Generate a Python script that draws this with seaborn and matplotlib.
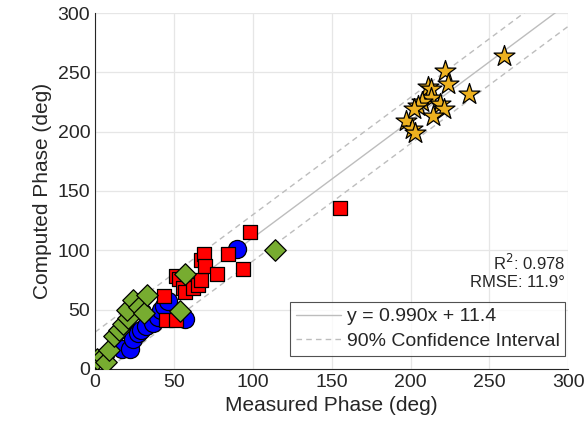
import numpy as np
import pandas as pd
import matplotlib
matplotlib.use("Agg")
import matplotlib.pyplot as plt
import seaborn as sns

# measured / computed phase (deg) per group
blue_x = [17, 22, 24, 27, 29, 32, 37, 40, 42, 44, 46, 55, 57, 90]
blue_y = [17, 17, 25, 30, 33, 36, 39, 44, 50, 53, 57, 44, 42, 101]
red_x = [44, 45, 51, 51, 53, 56, 57, 62, 65, 67, 67, 69, 70, 77, 84, 94, 98, 155]
red_y = [61, 41, 41, 78, 76, 68, 65, 68, 71, 75, 92, 97, 87, 80, 97, 84, 115, 136]
green_x = [1, 5, 7, 9, 12, 15, 18, 21, 20, 24, 28, 31, 33, 54, 57, 114]
green_y = [8, 10, 6, 16, 28, 33, 38, 43, 50, 58, 52, 47, 62, 49, 80, 100]
star_x = [259, 222, 224, 211, 213, 237, 213, 207, 205, 202, 219, 221, 214, 197, 201, 203]
star_y = [264, 251, 240, 238, 236, 232, 228, 225, 222, 219, 223, 219, 213, 209, 202, 199]

slope = 0.990
intercept = 11.4
ci_half = 19.5
r2_text = "R$^2$: 0.978"
rmse_text = "RMSE: 11.9°"

df = pd.concat([
    pd.DataFrame({"x": blue_x, "y": blue_y, "g": "blue"}),
    pd.DataFrame({"x": red_x, "y": red_y, "g": "red"}),
    pd.DataFrame({"x": green_x, "y": green_y, "g": "green"}),
    pd.DataFrame({"x": star_x, "y": star_y, "g": "star"}),
])

sns.set_style("white")
plt.rcParams["font.family"] = ["Liberation Sans", "DejaVu Sans"]

fig = plt.figure(figsize=(5.87, 4.38), dpi=100)
ax = fig.add_axes([0.162, 0.158, 0.806, 0.812])

sizes = {"blue": 170, "red": 105, "green": 120, "star": 250}
colors = {"blue": "#0000ff", "red": "#ff0000", "green": "#77ac30", "star": "#edb120"}
markers = {"blue": "o", "red": "s", "green": "D", "star": "*"}
for g in ["blue", "red", "green", "star"]:
    sub = df[df["g"] == g]
    sns.scatterplot(data=sub, x="x", y="y", marker=markers[g], color=colors[g],
                    s=sizes[g], edgecolor="black", linewidth=0.9,
                    ax=ax, legend=False, zorder=3)

xs = np.array([0, 300])
ax.plot(xs, slope * xs + intercept, color="#bdbdbd", lw=1.0, zorder=2,
        label=f"y = {slope:.3f}x + {intercept:.1f}")
ax.plot(xs, slope * xs + intercept + ci_half, color="#bdbdbd", lw=1.0, ls=(0, (4, 3)),
        zorder=2, label="90% Confidence Interval")
ax.plot(xs, slope * xs + intercept - ci_half, color="#bdbdbd", lw=1.0, ls=(0, (4, 3)), zorder=2)

ax.set_xlim(0, 300)
ax.set_ylim(0, 300)
ax.set_xticks(range(0, 301, 50))
ax.set_yticks(range(0, 301, 50))
ax.grid(True, color="#e6e6e6", lw=0.9)
ax.set_axisbelow(True)
sns.despine(ax=ax)
for sp in ["left", "bottom"]:
    ax.spines[sp].set_color("#262626")
    ax.spines[sp].set_linewidth(0.8)
ax.tick_params(labelsize=14, colors="#262626", direction="in", length=4)
ax.set_xlabel("Measured Phase (deg)", fontsize=15, color="#262626")
ax.set_ylabel("Computed Phase (deg)", fontsize=15, color="#262626")

ax.text(0.993, 0.297, r2_text, transform=ax.transAxes, ha="right", va="center", fontsize=12, color="#262626")
ax.text(0.993, 0.243, rmse_text, transform=ax.transAxes, ha="right", va="center", fontsize=12, color="#262626")

leg = ax.legend(loc="lower right", bbox_to_anchor=(0.994, 0.037), fontsize=14, frameon=True,
                fancybox=False, borderaxespad=0, handlelength=2.3, handletextpad=0.3,
                borderpad=0.3, labelspacing=0.35)
leg.get_frame().set_edgecolor("#262626")
leg.get_frame().set_linewidth(0.8)

fig.savefig("out.png", dpi=100)
